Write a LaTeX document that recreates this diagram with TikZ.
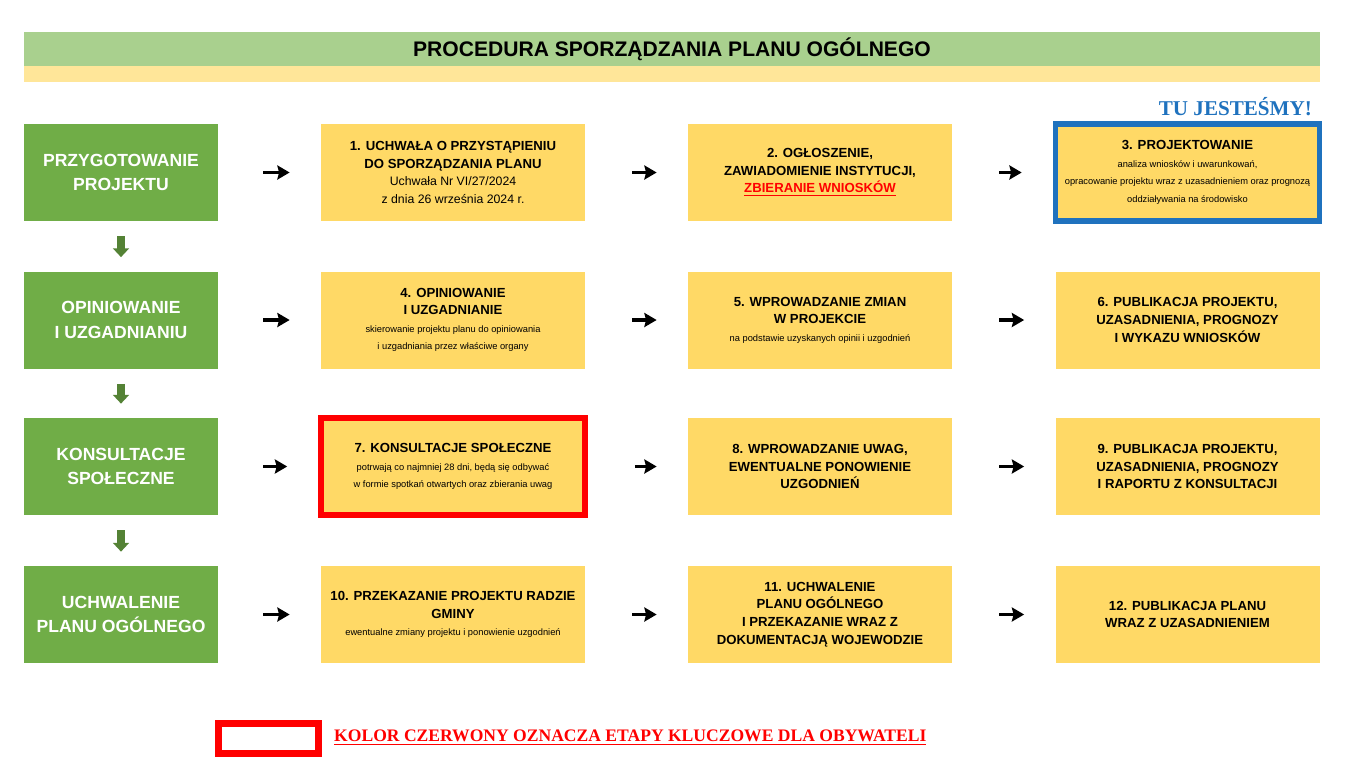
\documentclass[tikz,border=0pt]{standalone}
\usepackage{fontspec}
\setmainfont{Liberation Sans}
\newfontfamily\serifont{Liberation Serif}
\usetikzlibrary{arrows.meta}
\definecolor{stagegreen}{HTML}{70AD47}
\definecolor{stepyellow}{HTML}{FFD966}
\definecolor{titlegreen}{HTML}{A9D08E}
\definecolor{titleyellow}{HTML}{FFE699}
\definecolor{arrowgreen}{HTML}{548235}
\definecolor{hereblue}{HTML}{1F72BE}
\definecolor{keyred}{HTML}{FF0000}
\tikzset{
	stage/.style={fill=stagegreen, text=white, font=\bfseries\fontsize{10}{14}\selectfont, align=center, minimum width=194*0.02cm, minimum height=97*0.02cm, inner sep=0pt},
	stepbox/.style={fill=stepyellow, font=\bfseries\fontsize{7.5}{10}\selectfont, align=center, minimum width=264*0.02cm, minimum height=97*0.02cm, inner sep=0pt},
	arr/.style={-{Stealth[length=7pt,width=8pt,inset=1pt]}, line width=1.8pt},
	downarr/.style={-{Triangle[length=5pt,width=9pt]}, line width=4pt, arrowgreen, shorten <=15*0.02cm, shorten >=14*0.02cm}
}
\newcommand{\sm}[1]{{\mdseries\fontsize{5.3}{7.5}\selectfont #1}}
\newcommand{\nb}[1]{{\mdseries\fontsize{7}{9.5}\selectfont #1}}
\begin{document}
\begin{tikzpicture}[x=0.02cm, y=-0.02cm]
	\useasboundingbox (0,0) rectangle (1346,781);
	% title
	\fill[titlegreen] (24,32) rectangle (1320,66);
	\fill[titleyellow] (24,66) rectangle (1320,82);
	\node[font=\bfseries\fontsize{12}{14}\selectfont] (title) at (672,49) {PROCEDURA SPORZĄDZANIA PLANU OGÓLNEGO};
	\node[anchor=east, text=hereblue, font=\serifont\bfseries\fontsize{12}{14}\selectfont] (here) at (1318,107) {TU JESTEŚMY!};

	% stages
	\node[stage] (g1) at (121,172.5) {PRZYGOTOWANIE\\PROJEKTU};
	\node[stage] (g2) at (121,320) {OPINIOWANIE\\I UZGADNIANIU};
	\node[stage] (g3) at (121,466.5) {KONSULTACJE\\SPOŁECZNE};
	\node[stage] (g4) at (121,614.5) {UCHWALENIE\\PLANU OGÓLNEGO};

	% steps
	\node[stepbox] (s1) at (453,172.5) {1. UCHWAŁA O PRZYSTĄPIENIU\\DO SPORZĄDZANIA PLANU\\\nb{Uchwała Nr VI/27/2024}\\\nb{z dnia 26 września 2024 r.}};
	\node[stepbox] (s2) at (820,172.5) {2. OGŁOSZENIE,\\ZAWIADOMIENIE INSTYTUCJI,\\\textcolor{keyred}{\underline{ZBIERANIE WNIOSKÓW}}};
	\node[stepbox, draw=hereblue, line width=4*0.02cm*1.4] (s3) at (1187.5,172.5) {3. PROJEKTOWANIE\\\sm{analiza wniosków i uwarunkowań,}\\\sm{opracowanie projektu wraz z uzasadnieniem oraz prognozą}\\\sm{oddziaływania na środowisko}};
	\node[stepbox] (s4) at (453,320) {4. OPINIOWANIE\\I UZGADNIANIE\\\sm{skierowanie projektu planu do opiniowania}\\\sm{i uzgadniania przez właściwe organy}};
	\node[stepbox] (s5) at (820,320) {5. WPROWADZANIE ZMIAN\\W PROJEKCIE\\\sm{na podstawie uzyskanych opinii i uzgodnień}};
	\node[stepbox] (s6) at (1187.5,320) {6. PUBLIKACJA PROJEKTU,\\UZASADNIENIA, PROGNOZY\\I WYKAZU WNIOSKÓW};
	\node[stepbox, draw=keyred, line width=4*0.02cm*1.4] (s7) at (453,466.5) {7. KONSULTACJE SPOŁECZNE\\\sm{potrwają co najmniej 28 dni, będą się odbywać}\\\sm{w formie spotkań otwartych oraz zbierania uwag}};
	\node[stepbox] (s8) at (820,466.5) {8. WPROWADZANIE UWAG,\\EWENTUALNE PONOWIENIE\\UZGODNIEŃ};
	\node[stepbox] (s9) at (1187.5,466.5) {9. PUBLIKACJA PROJEKTU,\\UZASADNIENIA, PROGNOZY\\I RAPORTU Z KONSULTACJI};
	\node[stepbox] (s10) at (453,614.5) {10. PRZEKAZANIE PROJEKTU RADZIE\\GMINY\\\sm{ewentualne zmiany projektu i ponowienie uzgodnień}};
	\node[stepbox] (s11) at (820,614.5) {11. UCHWALENIE\\PLANU OGÓLNEGO\\I PRZEKAZANIE WRAZ Z\\DOKUMENTACJĄ WOJEWODZIE};
	\node[stepbox] (s12) at (1187.5,614.5) {12. PUBLIKACJA PLANU\\WRAZ Z UZASADNIENIEM};

	% arrows
	\foreach \r/\a/\b/\c in {1/1/2/3, 2/4/5/6, 3/7/8/9, 4/10/11/12} {
		\draw[arr, shorten <=45*0.02cm, shorten >=31*0.02cm] (g\r) -- (s\a);
		\draw[arr, shorten <=47*0.02cm, shorten >=31*0.02cm] (s\a) -- (s\b);
		\draw[arr, shorten <=47*0.02cm, shorten >=31*0.02cm] (s\b) -- (s\c);
	}
	\draw[downarr] (g1) -- (g2);
	\draw[downarr] (g2) -- (g3);
	\draw[downarr] (g3) -- (g4);

	% legend
	\node[draw=keyred, line width=5*0.02cm*1.4, minimum width=100*0.02cm, minimum height=30*0.02cm] (key) at (268.5,738) {};
	\node[anchor=west, text=keyred, font=\serifont\bfseries\fontsize{10}{12}\selectfont] (keytext) at (328,738) {\underline{KOLOR CZERWONY OZNACZA ETAPY KLUCZOWE DLA OBYWATELI}};
\end{tikzpicture}
\end{document}
